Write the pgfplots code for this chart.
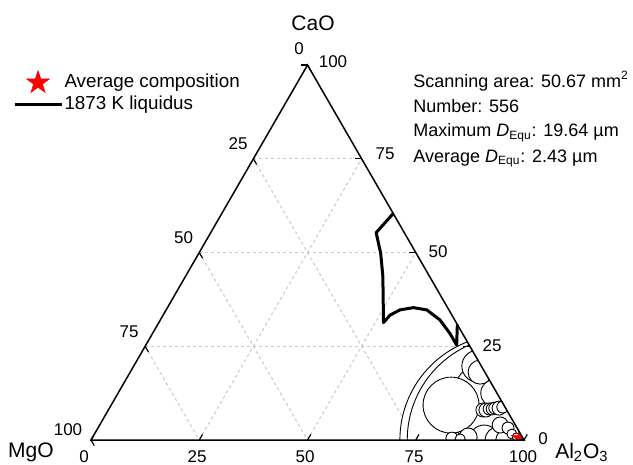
\documentclass[border=0pt]{standalone}
\usepackage{fontspec}
\setmainfont{Liberation Sans}
\usepackage{pgfplots}
\usepackage{pgfplotstable}
\pgfplotsset{compat=1.18}

\pgfdeclareplotmark{fstar}{%
  \pgfpathmoveto{\pgfqpointpolar{90}{\pgfplotmarksize}}%
  \pgfpathlineto{\pgfqpointpolar{126}{0.382\pgfplotmarksize}}%
  \pgfpathlineto{\pgfqpointpolar{162}{\pgfplotmarksize}}%
  \pgfpathlineto{\pgfqpointpolar{198}{0.382\pgfplotmarksize}}%
  \pgfpathlineto{\pgfqpointpolar{234}{\pgfplotmarksize}}%
  \pgfpathlineto{\pgfqpointpolar{270}{0.382\pgfplotmarksize}}%
  \pgfpathlineto{\pgfqpointpolar{306}{\pgfplotmarksize}}%
  \pgfpathlineto{\pgfqpointpolar{342}{0.382\pgfplotmarksize}}%
  \pgfpathlineto{\pgfqpointpolar{18}{\pgfplotmarksize}}%
  \pgfpathlineto{\pgfqpointpolar{54}{0.382\pgfplotmarksize}}%
  \pgfpathclose
  \pgfusepathqfillstroke
}

% inclusions: Al2O3 (A), CaO (C), MgO (M) in mass%, D = equivalent diameter (um)
\pgfplotstableread{
A C M D
95.6 0.0 4.4 19.64
97.0 0.0 3.0 19.40
89.8 9.3 0.9 9.35
78.5 9.3 12.2 5.23
79.5 19.7 0.8 3.00
90.8 0.0 9.2 2.80
87.0 12.5 0.5 2.62
94.0 0.0 6.0 2.43
80.8 18.1 1.1 2.24
95.8 0.0 4.2 1.87
86.7 0.8 12.5 1.68
92.5 4.0 3.5 1.50
86.5 8.0 5.5 1.31
87.2 8.0 4.8 1.31
87.8 8.3 3.9 1.12
88.5 8.3 3.2 1.12
89.0 8.5 2.5 1.12
90.0 8.5 1.5 1.31
90.7 8.8 0.5 1.12
94.7 3.2 2.1 1.12
83.1 0.5 16.4 1.12
85.1 0.3 14.6 0.93
96.4 1.6 2.0 0.93
97.8 0.8 1.4 0.75
}\inclusions

\pgfplotstableread{
A C M
39.6 60.4 0.0
38.2 55.3 6.5
42.0 49.8 8.2
45.6 43.6 10.8
51.9 31.3 16.8
52.4 33.3 14.3
54.0 34.7 11.3
56.8 35.3 7.9
60.2 34.7 5.1
64.6 32.0 3.4
68.7 28.4 2.9
71.8 25.3 2.9
69.2 30.8 0.0
}\liquidus

\pgfplotstableread{
A C M
98.8 0.5 0.7
}\average

\begin{document}
\begin{tikzpicture}
\begin{axis}[
  scale only axis, width=316.5pt, height=232.5pt,
  xmin=-21.02, xmax=125.17, ymin=-5.77, ymax=101.62,
  axis line style={draw=none}, ticks=none,
  clip marker paths=true, clip mode=individual,
  legend style={draw=none, fill=none, at={(axis cs:-18.1,85.4)}, anchor=north west,
    font=\fontsize{9.4}{11}\selectfont, inner sep=0pt, row sep=1pt,
    nodes={inner sep=0.75pt}},
  legend cell align=left,
  grid line/.style={forget plot, draw={rgb,255:red,200;green,200;blue,200}, line width=0.5pt, dash pattern=on 1.5pt off 1.5pt},
  tick line/.style={forget plot, black, line width=0.6pt},
]
% grid
\addplot[grid line] coordinates {(12.5,21.65) (87.5,21.65)};
\addplot[grid line] coordinates {(25,43.30) (75,43.30)};
\addplot[grid line] coordinates {(37.5,64.95) (62.5,64.95)};
\addplot[grid line] coordinates {(25,0) (62.5,64.95)};
\addplot[grid line] coordinates {(50,0) (75,43.30)};
\addplot[grid line] coordinates {(75,0) (87.5,21.65)};
\addplot[grid line] coordinates {(37.5,64.95) (75,0)};
\addplot[grid line] coordinates {(25,43.30) (50,0)};
\addplot[grid line] coordinates {(12.5,21.65) (25,0)};

% inclusions
\addplot[forget plot, scatter, only marks, mark=*,
  scatter/use mapped color={draw=black, fill=white},
  mark options={line width=0.45pt},
  visualization depends on={2.675*\thisrow{D} \as \msz},
  scatter/@pre marker code/.append style={/tikz/mark size=\msz}]
  table[x expr=\thisrow{A}+0.5*\thisrow{C}, y expr=0.8660254*\thisrow{C}] {\inclusions};

% average composition
\addplot[only marks, mark=fstar, mark size=4.5pt, draw=red, fill=red,
  mark options={draw=red, fill=red, line width=0.3pt},
  legend image code/.code={\draw[red, fill=red, line width=0.3pt, mark size=6pt, mark options={draw=red, fill=red}] plot[mark=fstar] coordinates {(11.75pt,0pt)};}]
  table[x expr=\thisrow{A}+0.5*\thisrow{C}, y expr=0.8660254*\thisrow{C}] {\average};
\addlegendentry{Average composition}

% mask outside triangle
\addplot[forget plot, fill=white, draw=none] coordinates {(100,0) (82.68,30) (125.17,30) (125.17,-5.77) (60,-5.77) (60,0) (100,0)};

% triangle
\addplot[forget plot, black, line width=0.75pt, line join=miter] coordinates {(0,0) (100,0) (50,86.60) (0,0) (100,0)};

% ticks
\addplot[tick line] coordinates {(0,0) (0.75,1.3)};
\addplot[tick line] coordinates {(25,0) (25.75,1.3)};
\addplot[tick line] coordinates {(50,0) (50.75,1.3)};
\addplot[tick line] coordinates {(75,0) (75.75,1.3)};
\addplot[tick line] coordinates {(100,0) (100.75,1.3)};
\addplot[tick line] coordinates {(50,86.60) (50.75,85.30)};
\addplot[tick line] coordinates {(37.5,64.95) (38.25,63.65)};
\addplot[tick line] coordinates {(25,43.30) (25.75,42.00)};
\addplot[tick line] coordinates {(12.5,21.65) (13.25,20.35)};
\addplot[tick line] coordinates {(0,0) (0.75,-1.3)};
\addplot[tick line] coordinates {(100,0) (98.5,0)};
\addplot[tick line] coordinates {(87.5,21.65) (86,21.65)};
\addplot[tick line] coordinates {(75,43.30) (73.5,43.30)};
\addplot[tick line] coordinates {(62.5,64.95) (61,64.95)};
\addplot[tick line] coordinates {(50,86.60) (48.5,86.60)};

% liquidus
\addplot[black, line width=1.5pt, line join=round,
  legend image code/.code={\draw[black, line width=1.5pt] (0pt,0pt) -- (23.5pt,0pt);}]
  table[x expr=\thisrow{A}+0.5*\thisrow{C}, y expr=0.8660254*\thisrow{C}] {\liquidus};
\addlegendentry{1873 K liquidus}

% tick labels
\begin{scope}[every node/.style={font=\fontsize{8.5}{10}\selectfont, inner sep=0pt}]
\node at (axis cs:48.04,90.30) {0};
\node at (axis cs:33.95,68.48) {25};
\node at (axis cs:21.36,46.65) {50};
\node at (axis cs:8.78,24.94) {75};
\node at (axis cs:-5.31,2.31) {100};
\node at (axis cs:55.89,87.30) {100};
\node at (axis cs:67.90,66.05) {75};
\node at (axis cs:80.14,43.42) {50};
\node at (axis cs:92.61,21.71) {25};
\node at (axis cs:104.39,0.2) {0};
\node at (axis cs:-1.62,-3.85) {0};
\node at (axis cs:24.48,-3.85) {25};
\node at (axis cs:49.42,-3.85) {50};
\node at (axis cs:74.60,-3.85) {75};
\node at (axis cs:99.77,-3.85) {100};
\end{scope}

% corner labels
\begin{scope}[every node/.style={font=\fontsize{10.5}{12}\selectfont, inner sep=0pt, anchor=base}]
\node at (axis cs:51.27,94.69) {CaO};
\node at (axis cs:-13.86,-3.93) {MgO};
\node at (axis cs:113.39,-4.16) {Al\textsubscript{2}O\textsubscript{3}};
\end{scope}

% statistics
\begin{scope}[every node/.style={font=\fontsize{9}{10.8}\selectfont, inner sep=0pt, anchor=base west}]
\node at (axis cs:74.36,81.52) {Scanning area: 50.67 mm\textsuperscript{2}};
\node at (axis cs:74.36,75.75) {Number: 556};
\node at (axis cs:74.36,69.98) {Maximum \textit{D}\textsubscript{Equ}: 19.64 µm};
\node at (axis cs:74.36,64.20) {Average \textit{D}\textsubscript{Equ}: 2.43 µm};
\end{scope}
\end{axis}
\end{tikzpicture}
\end{document}
